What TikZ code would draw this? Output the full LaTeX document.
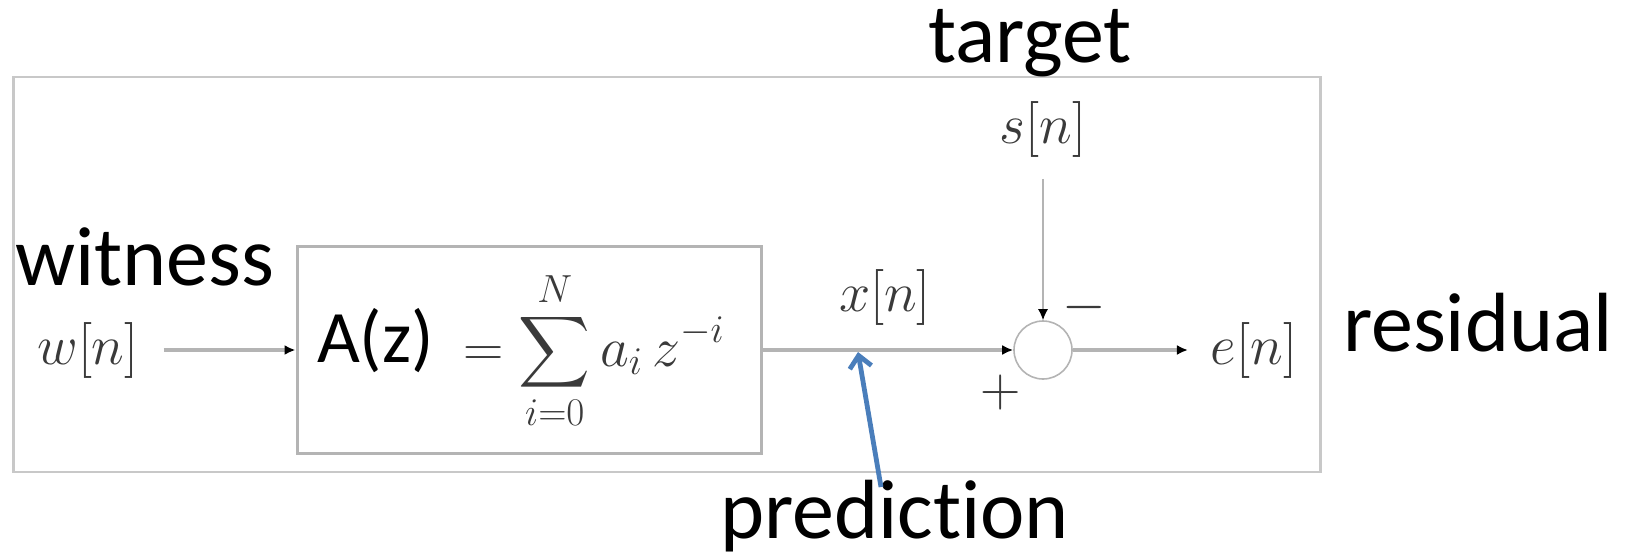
\documentclass[tikz,border=0pt]{standalone}
\usepackage{fix-cm}
\usepackage{amsmath}
\usepackage{fontspec}
\newfontfamily\labelfont{Carlito}[Ligatures={NoCommon}]
\usetikzlibrary{arrows.meta, positioning}
\definecolor{cframe}{HTML}{C8C8C8}
\definecolor{cline}{HTML}{B4B4B4}
\definecolor{cmath}{HTML}{3A3A3A}
\definecolor{cblue}{HTML}{4A7EBB}
\tikzset{
  every picture/.style={line width=1pt},
  sig/.style={draw=cline, line width=2.2pt, -{Latex[length=5.5pt, width=5pt, color=black]}},
  thinsig/.style={draw=cline, line width=0.7pt, -{Latex[length=5.5pt, width=5pt, color=black]}},
  sigtext/.style={text=cmath, font=\fontsize{28}{32}\selectfont, inner sep=0pt},
  bigword/.style={font=\labelfont\fontsize{42}{48}\selectfont, inner sep=0pt, anchor=base},
  filterbox/.style={draw=cline, line width=1.5pt, minimum width=232pt, minimum height=103.5pt, inner sep=0pt},
  summer/.style={circle, draw=cline, line width=0.8pt, minimum size=29pt, inner sep=0pt},
  pointer/.style={draw=cblue, line width=2.4pt, -{Straight Barb[length=6pt, width=11pt]}},
}
\begin{document}
\begin{tikzpicture}[x=0.5pt, y=-0.5pt]
  \useasboundingbox (0,0) rectangle (1628,557);
  % outer frame
  \draw[cframe, line width=1.4pt] (13.5,77) rectangle (1320.5,472);
  % blocks
  \node[filterbox] (filt) at (529,350) {};
  \node[inner sep=0pt, anchor=base west, font=\labelfont\fontsize{37}{40}\selectfont] (az) at (316,362) {A(z)};
  \node[sigtext, anchor=base west] (formula) at (462,366) {$\displaystyle= \sum_{i=0}^{N} a_i\, z^{-i}$};
  \node[summer] (sum) at (1043,350) {};
  % signals
  \node[sigtext] (win) at (88,350) {$w[n]$};
  \node[sigtext] (xn) at (885,297) {$x[n]$};
  \node[sigtext] (sn) at (1043,130) {$s[n]$};
  \node[sigtext] (en) at (1254,350) {$e[n]$};
  \node[sigtext] (minus) at (1084,307) {$-$};
  \node[sigtext] (plus) at (1001,392) {$+$};
  \draw[sig, shorten <=12pt] (win) -- (filt.west);
  \draw[sig] (filt.east) -- (sum.west);
  \draw[thinsig, shorten <=10pt] (sn) -- (sum.north);
  \draw[sig, shorten >=11pt] (sum.east) -- (en);
  % annotations
  \node[bigword] (wit) at (145,285) {witness};
  \node[bigword] (tgt) at (1030,62) {target};
  \node[bigword] (res) at (1478,351) {residual};
  \node[bigword] (pred) at (894.5,538) {prediction};
  \coordinate (predtail) at (881,487);
  \coordinate (predtip) at (858,352);
  \draw[pointer] (predtail) -- (predtip);
\end{tikzpicture}
\end{document}
